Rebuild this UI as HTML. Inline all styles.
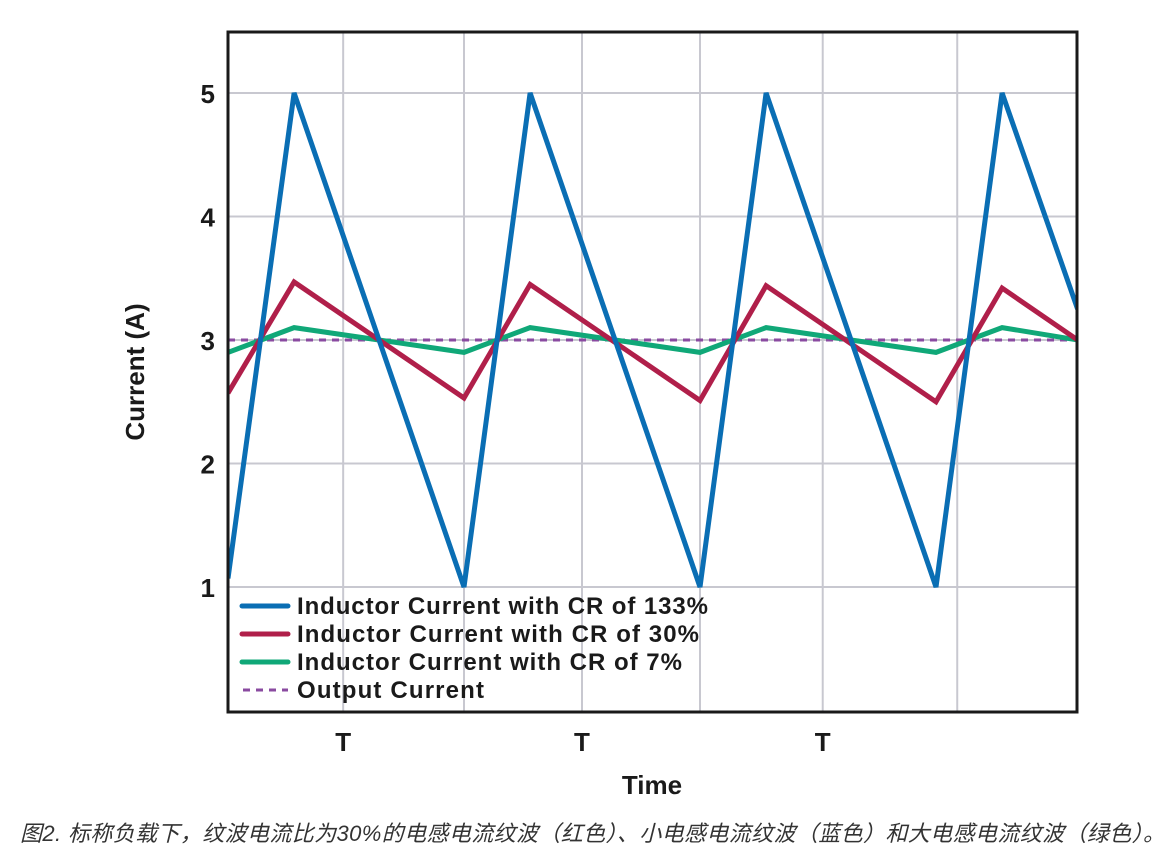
<!DOCTYPE html>
<html><head><meta charset="utf-8"><style>
html,body{margin:0;padding:0;background:#fff;}
svg{display:block;font-family:"Liberation Sans","Noto Sans CJK SC",sans-serif;}
</style></head><body>
<svg id="chart" width="1175" height="865">
<defs><clipPath id="plotclip"><rect x="228" y="32" width="849" height="680"/></clipPath></defs>
<g id="grid"></g>
<g id="series" clip-path="url(#plotclip)"></g>
<rect x="228" y="32" width="849" height="680" fill="none" stroke="#1a1a1a" stroke-width="3"/>
<g id="yticks"></g>
<g id="xticks"></g>
<text x="144" y="372" transform="rotate(-90 144 372)" text-anchor="middle" font-size="26" font-weight="bold" fill="#1a1a1a">Current (A)</text>
<text x="652" y="794" text-anchor="middle" font-size="26" font-weight="bold" fill="#1a1a1a">Time</text>
<g>
<g><line x1="242" y1="606" x2="288" y2="606" stroke="#0a6eb4" stroke-width="5" stroke-linecap="round"/><text x="297" y="614" font-size="24" font-weight="bold" fill="#1a1a1a" textLength="411">Inductor Current with CR of 133%</text></g>
<g><line x1="242" y1="634" x2="288" y2="634" stroke="#b01f4a" stroke-width="5" stroke-linecap="round"/><text x="297" y="642" font-size="24" font-weight="bold" fill="#1a1a1a" textLength="402">Inductor Current with CR of 30%</text></g>
<g><line x1="242" y1="662" x2="288" y2="662" stroke="#10a878" stroke-width="5" stroke-linecap="round"/><text x="297" y="670" font-size="24" font-weight="bold" fill="#1a1a1a" textLength="385">Inductor Current with CR of 7%</text></g>
<g><line x1="243" y1="690" x2="288" y2="690" stroke="#8a4aa0" stroke-width="3" stroke-dasharray="7,6"/><text x="297" y="698" font-size="24" font-weight="bold" fill="#1a1a1a" textLength="187">Output Current</text></g>
</g>
<text x="20" y="841" font-size="22" font-style="italic" fill="#333" textLength="1145">图2. 标称负载下，纹波电流比为30%的电感电流纹波（红色）、小电感电流纹波（蓝色）和大电感电流纹波（绿色）。</text>
</svg>
<script>
const times = [0, 0.28, 1, 1.28, 2, 2.28, 3, 3.28, 3.6];
const blueValues = [1.07, 5.0, 1.0, 5.0, 1.0, 5.0, 1.0, 5.0, 3.25];
const redValues = [2.57, 3.47, 2.53, 3.45, 2.51, 3.44, 2.50, 3.42, 3.0];
const greenValues = [2.9, 3.1, 2.9, 3.1, 2.9, 3.1, 2.9, 3.1, 3.0];
const outputValue = 3;
const yTicks = [1, 2, 3, 4, 5];
const xGridTimes = [0.488, 1, 1.5, 2, 2.52, 3.09];
const xTickTimes = [0.488, 1.5, 2.52];
const xTickLabels = ["T", "T", "T"];

const NS = "http://www.w3.org/2000/svg";
const X0 = 228, PERIOD = 236;
function xs(t){ return X0 + t * PERIOD; }
function ys(v){ return 587 - (v - 1) * 123.5; }
function mk(tag, attrs, parent){ const e = document.createElementNS(NS, tag); for (const k in attrs) e.setAttribute(k, attrs[k]); parent.appendChild(e); return e; }

const grid = document.getElementById('grid');
yTicks.forEach(v => {
  const l = mk('line', {x1: 228, x2: 1077, y1: ys(v), y2: ys(v), stroke: '#c8c8d0', 'stroke-width': 2}, grid);
  
  
});
xGridTimes.forEach(t => {
  const l = mk('line', {x1: xs(t), x2: xs(t), y1: 32, y2: 712, stroke: '#c8c8d0', 'stroke-width': 2}, grid);
  
  
});

const series = document.getElementById('series');
const out = mk('line', {x1: 228, x2: 1077, y1: ys(outputValue), y2: ys(outputValue), stroke: '#8a4aa0', 'stroke-width': 3, 'stroke-dasharray': '7,6'}, series);


function drawLine(vals, color, name){
  const pts = vals.map((v, i) => xs(times[i]).toFixed(1) + ',' + ys(v).toFixed(1)).join(' ');
  const p = mk('polyline', {points: pts, fill: 'none', stroke: color, 'stroke-width': 5, 'stroke-linejoin': 'miter'}, series);
  
  
}
drawLine(greenValues, '#10a878', 'cr7-line');
drawLine(redValues, '#b01f4a', 'cr30-line');
drawLine(blueValues, '#0a6eb4', 'cr133-line');

const yt = document.getElementById('yticks');
yTicks.forEach(v => {
  const t = mk('text', {x: 215, y: ys(v) + 10, 'text-anchor': 'end', 'font-size': 26, 'font-weight': 'bold', fill: '#1a1a1a'}, yt);
  t.textContent = v;
  
  
});
const xt = document.getElementById('xticks');
xTickTimes.forEach((tt, i) => {
  const t = mk('text', {x: xs(tt), y: 751, 'text-anchor': 'middle', 'font-size': 26, 'font-weight': 'bold', fill: '#1a1a1a'}, xt);
  t.textContent = xTickLabels[i];
  
  
});
</script>
</body></html>
